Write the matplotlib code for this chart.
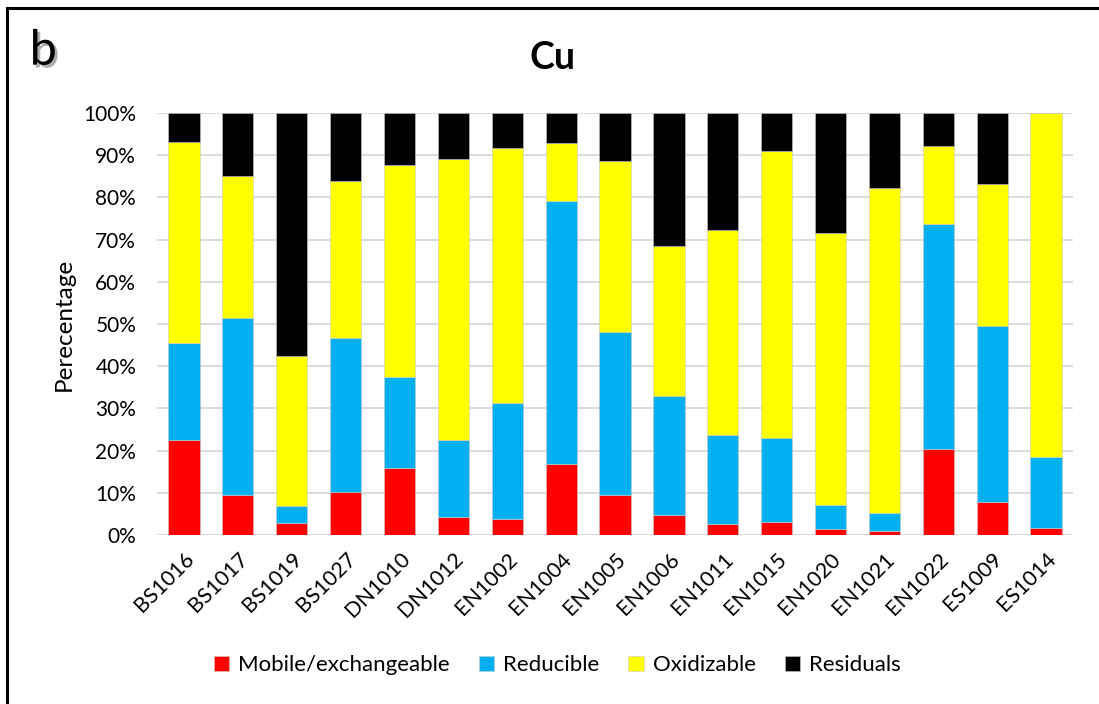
import numpy as np
import matplotlib
matplotlib.use("Agg")
import matplotlib.pyplot as plt
import matplotlib.patheffects as pe
from matplotlib.lines import Line2D

plt.rcParams['font.family'] = ['Lato', 'DejaVu Sans']

samples = ["BS1016", "BS1017", "BS1019", "BS1027", "DN1010", "DN1012", "EN1002",
           "EN1004", "EN1005", "EN1006", "EN1011", "EN1015", "EN1020", "EN1021",
           "EN1022", "ES1009", "ES1014"]

# fractions in percent
mobile = [22.6, 9.5, 2.9, 10.3, 15.8, 4.3, 3.7, 16.9, 9.6, 4.8, 2.6, 3.2, 1.5, 1.0, 20.4, 7.9, 1.7]
reducible = [22.8, 41.9, 4.1, 36.3, 21.7, 18.3, 27.7, 62.3, 38.5, 28.1, 21.1, 19.8, 5.6, 4.2, 53.2, 41.7, 16.7]
oxidizable = [47.8, 33.7, 35.4, 37.2, 50.3, 66.5, 60.4, 13.7, 40.6, 35.7, 48.5, 67.9, 64.5, 77.1, 18.7, 33.5, 81.6]
residuals = [6.8, 14.9, 57.6, 16.2, 12.2, 10.9, 8.2, 7.1, 11.3, 31.4, 27.8, 9.1, 28.4, 17.7, 7.7, 16.9, 0.0]

fractions = [
    ("Mobile/exchangeable", mobile, "#ff0000"),
    ("Reducible", reducible, "#00b0f0"),
    ("Oxidizable", oxidizable, "#ffff00"),
    ("Residuals", residuals, "#000000"),
]

fig = plt.figure(figsize=(10.99, 7.04), dpi=100)
ax = fig.add_axes([0.1429, 0.240, 0.8335, 0.5994])

x = np.arange(len(samples))
bottom = np.zeros(len(samples))
for name, vals, col in fractions:
    vals = np.array(vals)
    ax.bar(x, vals, 0.58, bottom=bottom, color=col, label=name,
           edgecolor="#c8c8c8", linewidth=0.4, zorder=3)
    bottom += vals

ax.set_xlim(-0.5, len(samples) - 0.5)
ax.set_ylim(0, 100)
ax.set_yticks(np.arange(0, 101, 10))
ax.set_yticklabels(["{}%".format(v) for v in range(0, 101, 10)], fontsize=15)
ax.set_xticks(x)
ax.set_xticklabels(samples, rotation=45, ha="right", rotation_mode="anchor", fontsize=15.5)
ax.tick_params(axis="y", length=0, pad=15)
ax.tick_params(axis="x", length=0, pad=10)
ax.grid(axis="y", color="#d9d9d9", linewidth=1.3, zorder=0)
for s in ax.spines.values():
    s.set_visible(False)

ax.set_ylabel("Perecentage", fontsize=17.5, labelpad=6)

fig.text(0.503, 0.918, "Cu", fontsize=27, fontweight="bold", ha="center", va="center")
fig.text(0.027, 0.928, "b", fontsize=35, ha="left", va="center",
         path_effects=[pe.withSimplePatchShadow(offset=(2, -2), shadow_rgbFace="#999999", alpha=0.8)])

fig.legend(loc="center", bbox_to_anchor=(0.507, 0.055), ncol=4, frameon=False,
           fontsize=16, handlelength=0.7, handleheight=0.7, handletextpad=0.4,
           columnspacing=1.3)

# frame around the picture (only top and left edges visible)
fig.add_artist(Line2D([0.006, 0.006], [0.0, 0.988], color="black", lw=2.2, transform=fig.transFigure))
fig.add_artist(Line2D([0.006, 1.0], [0.988, 0.988], color="black", lw=2.2, transform=fig.transFigure))

fig.savefig("out.png", dpi=100)
